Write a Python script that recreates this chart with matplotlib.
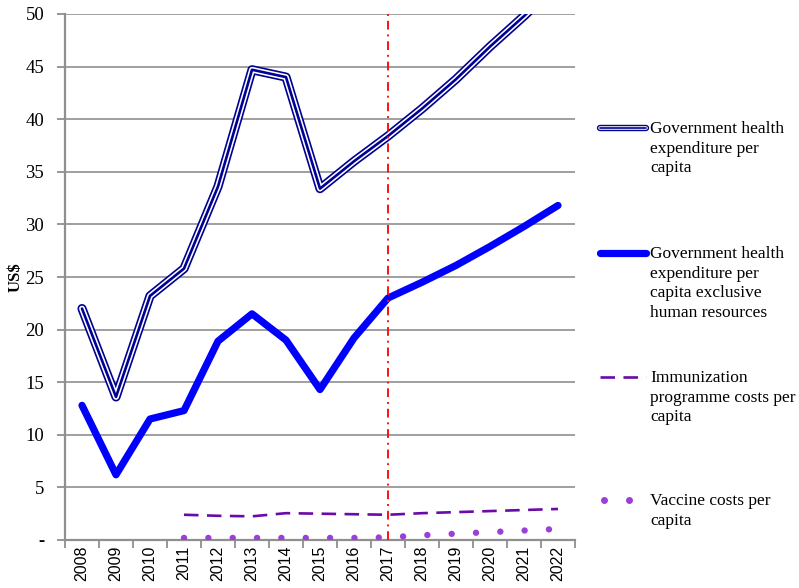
import matplotlib
matplotlib.use('Agg')
import matplotlib.pyplot as plt
from matplotlib.lines import Line2D
import numpy as np

# data
years = ['2008', '2009', '2010', '2011', '2012', '2013', '2014', '2015',
         '2016', '2017', '2018', '2019', '2020', '2021', '2022']
ghe_per_capita = [22.0, 13.6, 23.2, 25.8, 33.6, 44.7, 44.0, 33.4,
                  36.0, 38.4, 41.0, 43.8, 46.9, 49.8, 52.9]
ghe_excl_hr = [12.8, 6.2, 11.5, 12.3, 18.9, 21.5, 19.0, 14.3,
               19.2, 23.0, 24.5, 26.1, 27.9, 29.8, 31.8]
immun_years = years[3:]
immun_costs = [2.4, 2.3, 2.25, 2.55, 2.5, 2.45, 2.4, 2.55, 2.65, 2.75, 2.85, 2.95]
vaccine_costs = [0.2, 0.2, 0.2, 0.2, 0.2, 0.2, 0.25, 0.45, 0.6, 0.75, 0.9, 1.05]
marker_year = '2017'
y_ticks = [0, 5, 10, 15, 20, 25, 30, 35, 40, 45, 50]
y_ticklabels = ['-', '5', '10', '15', '20', '25', '30', '35', '40', '45', '50']

legend_labels = ['Government health\nexpenditure per\ncapita',
                 'Government health\nexpenditure per\ncapita exclusive\nhuman resources',
                 'Immunization\nprogramme costs per\ncapita',
                 'Vaccine costs per\ncapita']

navy = '#000091'
blue = '#0000ff'
purple_dark = '#6a0aa8'
purple_light = '#9b3fd6'
grid_col = '#8f8f8f'
serif = 'Liberation Serif'

W, H = 799, 588
fig = plt.figure(figsize=(W / 100, H / 100), dpi=100)
ax = fig.add_axes([65 / W, 1 - 540 / H, (575 - 65) / W, (540 - 14) / H])

x = np.arange(len(years))
xi = np.array([years.index(y) for y in immun_years])


def triple_line(axis, xs, ys, **kw):
    axis.plot(xs, ys, color=navy, lw=6.6, solid_capstyle='round', solid_joinstyle='round', zorder=4, **kw)
    axis.plot(xs, ys, color='white', lw=4.2, solid_capstyle='round', solid_joinstyle='round', zorder=4, **kw)
    axis.plot(xs, ys, color=navy, lw=1.9, solid_capstyle='round', solid_joinstyle='round', zorder=4, **kw)


triple_line(ax, x, ghe_per_capita)
ax.plot(x, ghe_excl_hr, color=blue, lw=5.2, solid_capstyle='round', solid_joinstyle='round', zorder=4)
ax.plot(xi, immun_costs, color=purple_dark, lw=1.9, linestyle=(0, (5.5, 3.2)), zorder=4)
ax.plot(xi, vaccine_costs, color=purple_light, lw=4.6, linestyle=(0, (0.01, 3.8)),
        dash_capstyle='round', zorder=4)

ax.axvline(years.index(marker_year), color='#ff1010', lw=1.4,
           linestyle=(0, (4.5, 2.5, 1, 2.5)), zorder=5)

ax.set_xlim(-0.5, len(years) - 0.5)
ax.set_ylim(0, 50)
ax.set_yticks(y_ticks)
ax.set_yticklabels(y_ticklabels, family=serif, fontsize=13.5)
for lab in ax.get_yticklabels():
    if lab.get_text() == '-':
        lab.set_fontweight('bold')
ax.set_xticks(x)
ax.set_xticklabels(years, rotation=90, family='Liberation Sans', fontsize=11.5)
ax.set_xticks(np.arange(len(years) + 1) - 0.5, minor=True)
ax.tick_params(axis='x', which='major', length=0, pad=4)
ax.tick_params(axis='x', which='minor', length=6, width=1.3, color=grid_col, direction='out')
ax.tick_params(axis='y', length=6, width=1.3, color=grid_col, pad=9)
ax.grid(axis='y', color=grid_col, lw=1.2)
ax.set_axisbelow(True)
for s in ['top', 'right']:
    ax.spines[s].set_visible(False)
for s in ['left', 'bottom']:
    ax.spines[s].set_color(grid_col)
    ax.spines[s].set_linewidth(1.6)
ax.set_ylabel('US$', family=serif, fontweight='bold', fontsize=12, labelpad=1)

# legend, drawn entry by entry at the right
tops = [128, 253, 377, 500]
hx0, hx1 = 600 / W, 646 / W
for i, (lab, ty) in enumerate(zip(legend_labels, tops)):
    yy = 1 - ty / H
    if i == 0:
        for c, lw in [(navy, 4.6), ('white', 2.6), (navy, 1.2)]:
            fig.add_artist(Line2D([hx0, hx1], [yy, yy], color=c, lw=lw, solid_capstyle='round'))
    elif i == 1:
        fig.add_artist(Line2D([hx0, hx1], [yy, yy], color=blue, lw=5.2, solid_capstyle='round'))
    elif i == 2:
        fig.add_artist(Line2D([hx0, hx1], [yy, yy], color=purple_dark, lw=1.9, linestyle=(0, (5.5, 3.2))))
    else:
        fig.add_artist(Line2D([604 / W, 629 / W], [yy, yy], color=purple_light, lw=0,
                              marker='o', markersize=5, markeredgewidth=0))
    fig.text(650 / W, yy + 7 / H, lab, family=serif, fontsize=12.5,
             va='top', ha='left', linespacing=1.3)

fig.savefig('out.png', dpi=100)
